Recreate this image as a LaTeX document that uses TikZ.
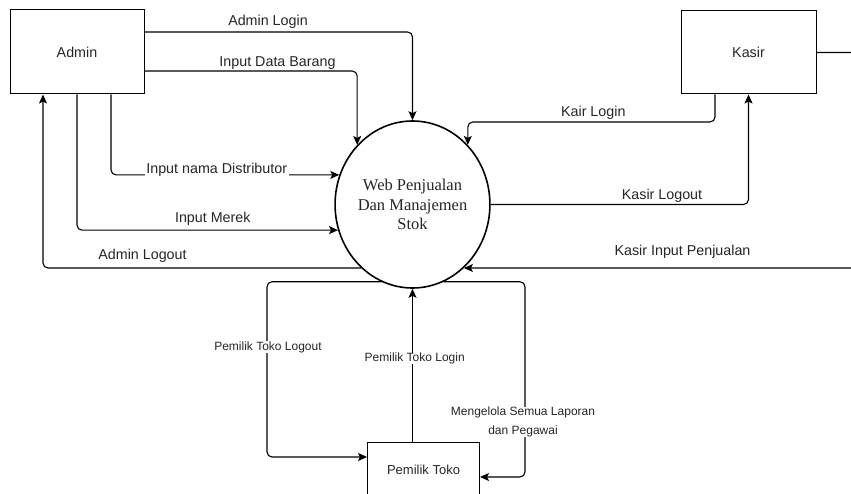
\documentclass[tikz,border=0pt]{standalone}
\usepackage{fontspec}
\setmainfont{Liberation Sans}
\newfontfamily\procfont{Liberation Serif}
\usetikzlibrary{arrows.meta,shapes.geometric}

\tikzset{
  entity/.style={draw, line width=1pt, inner sep=0pt, text=black!85, font=\fontsize{14.3}{17}\selectfont},
  process/.style={ellipse, draw, line width=1.6pt, inner sep=0pt, minimum width=135pt, minimum height=167pt,
    align=center, text=black!85, font=\procfont\fontsize{16.5}{19.5}\selectfont},
  flow/.style={-{Stealth[length=9pt,width=8pt,inset=2pt]}, line width=1.1pt, rounded corners=5pt},
  lbl/.style={fill=white, inner xsep=1.5pt, inner ysep=0.3pt, anchor=base, text=black!85, font=\fontsize{14.3}{17}\selectfont},
  lbls/.style={lbl, font=\fontsize{12}{19}\selectfont}
}

\begin{document}
\begin{tikzpicture}[x=1pt, y=-1pt]
    \useasboundingbox (0,0) rectangle (851,494);

    \node[entity, minimum width=134pt, minimum height=84pt] (admin) at (77,52) {Admin};
    \node[entity, minimum width=135pt, minimum height=83pt] (kasir) at (748.5,52.5) {Kasir};
    \node[process] (web) at (412.5,204.5) {Web Penjualan\\Dan Manajemen\\Stok};
    \node[entity, minimum width=112pt, minimum height=55pt, font=\fontsize{13}{15}\selectfont] (pemilik) at (423.5,470) {Pemilik Toko};

    % admin
    \draw[flow] (admin.east |- 0,32) -| (web.north);
    \draw[flow] (admin.east |- 0,71) -| (web.north west);
    \draw[flow] (admin.south -| 111,0) |- (web.158);
    \draw[flow] (admin.south) |- (web.199);
    \draw[flow] (web.231) -| (admin.south -| 43,0);

    % kasir
    \draw[flow] (kasir.south -| 715,0) |- (web.north east |- 0,122) -- (web.north east);
    \draw[flow] (web.east) -| (kasir.south);
    \draw[flow] (kasir.east) -- ++(60,0) |- (web.309);

    % pemilik toko
    \draw[flow] (web.248) -- (web.248 -| 267,0) |- ([yshift=13pt]pemilik.west);
    \draw[flow] (pemilik.north -| web.south) -- (web.south);
    \draw[flow] (web.292) -- (web.292 -| 525,0) |- ([yshift=-7pt]pemilik.east);

    \node[lbl] (l1) at (268,25.7) {Admin Login};
    \node[lbl] (l2) at (277.5,66.7) {Input Data Barang};
    \node[lbl] (l3) at (216.7,173.3) {Input nama Distributor};
    \node[lbl] (l4) at (212.8,222.7) {Input Merek};
    \node[lbl] (l5) at (142.5,259.3) {Admin Logout};
    \node[lbl] (l6) at (593.3,116.7) {Kair Login};
    \node[lbl] (l7) at (662,200) {Kasir Logout};
    \node[lbl] (l8) at (682.5,255.7) {Kasir Input Penjualan};
    \node[lbls] (l9) at (268,350) {Pemilik Toko Logout};
    \node[lbls] (l10) at (414.7,361.7) {Pemilik Toko Login};
    \node[lbls, anchor=center, align=center] (l11) at (523,422) {Mengelola Semua Laporan\\dan Pegawai};
\end{tikzpicture}
\end{document}
